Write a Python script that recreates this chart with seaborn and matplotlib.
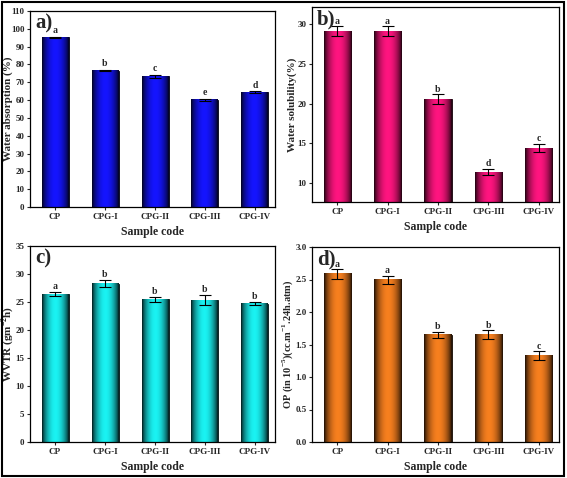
import numpy as np
import pandas as pd
import matplotlib
matplotlib.use("Agg")
import matplotlib.pyplot as plt
import seaborn as sns
from matplotlib.patches import Rectangle

samples = ["CP", "CPG-I", "CPG-II", "CPG-III", "CPG-IV"]

wa_vals = [95.2, 76.6, 73.4, 60.2, 64.5]
wa_err = [0.4, 0.5, 0.8, 0.5, 0.5]
wa_let = ["a", "b", "c", "e", "d"]

ws_vals = [29.15, 29.15, 20.55, 11.3, 14.35]
ws_err = [0.6, 0.6, 0.6, 0.4, 0.5]
ws_let = ["a", "a", "b", "d", "c"]

wvtr_vals = [26.4, 28.25, 25.45, 25.35, 24.7]
wvtr_err = [0.4, 0.6, 0.4, 0.9, 0.3]
wvtr_let = ["a", "b", "b", "b", "b"]

op_vals = [2.585, 2.495, 1.65, 1.65, 1.325]
op_err = [0.07, 0.06, 0.05, 0.07, 0.07]
op_let = ["a", "a", "b", "b", "c"]

sns.set_style("white")
plt.rcParams["font.family"] = ["Liberation Serif", "DejaVu Serif"]
plt.rcParams["font.weight"] = "bold"
plt.rcParams["mathtext.fontset"] = "custom"
plt.rcParams["mathtext.rm"] = "Liberation Serif:bold"
plt.rcParams["mathtext.bf"] = "Liberation Serif:bold"

fig = plt.figure(figsize=(5.67, 4.78), dpi=100)

W, H = 567.0, 478.0
def rect(l, r, t, b):
    return [l / W, 1 - b / H, (r - l) / W, (b - t) / H]

panels = [
    dict(pos=rect(30, 275, 11, 207), vals=wa_vals, err=wa_err, let=wa_let,
         color=(0.08, 0.08, 1.0), ylim=(0, 110), yticks=np.arange(0, 111, 10),
         ylabel="Water absorption (%)", tag="a)", fmt="{:.0f}", loff=0.8, lx=-0.088, lfs=8),
    dict(pos=rect(312, 559, 7, 202), vals=ws_vals, err=ws_err, let=ws_let,
         color=(1.0, 0.08, 0.5), ylim=(7.55, 32.2), yticks=[10, 15, 20, 25, 30],
         ylabel="Water solubility(%)", tag="b)", fmt="{:.0f}", loff=0.1, lx=-0.08, lfs=8),
    dict(pos=rect(30, 275, 246, 442), vals=wvtr_vals, err=wvtr_err, let=wvtr_let,
         color=(0.1, 0.95, 0.95), ylim=(0, 35), yticks=np.arange(0, 36, 5),
         ylabel=r"WVTR (gm$^{-2}$h)", tag="c)", fmt="{:.0f}", loff=0.2, lx=-0.092, lfs=8),
    dict(pos=rect(312, 559, 247, 442), vals=op_vals, err=op_err, let=op_let,
         color=(0.97, 0.5, 0.12), ylim=(0, 3.0), yticks=np.arange(0, 3.01, 0.5),
         ylabel=r"OP (in 10$^{-5}$)(cc.m$^{-1}$.24h.atm)", tag="d)", fmt="{:.1f}", loff=0.01,
         lx=-0.097, lfs=7.5),
]

t = np.linspace(0, 1, 200)
prof = np.clip(np.sin(np.pi * t), 0, 1) ** 0.7
prof = 0.06 + 0.94 * prof

for p in panels:
    ax = fig.add_axes(p["pos"])
    df = pd.DataFrame({"Sample": samples, "Value": p["vals"]})
    sns.barplot(data=df, x="Sample", y="Value", color=p["color"], width=0.54,
                errorbar=None, ax=ax, edgecolor="black", linewidth=0.6, saturation=1)
    ylo, yhi = p["ylim"]
    c = np.array(p["color"])
    grad = (prof[:, None] * c[None, :])[None, :, :]
    for patch in list(ax.patches):
        x0, y0 = patch.get_x(), patch.get_y()
        w, h = patch.get_width(), patch.get_height()
        yb = max(y0, ylo)
        yt = min(y0 + h, yhi)
        ax.imshow(grad, extent=[x0, x0 + w, yb, yt], aspect="auto",
                  origin="lower", zorder=2.1, interpolation="bilinear")
    xs = np.arange(len(samples))
    ax.errorbar(xs, p["vals"], yerr=p["err"], fmt="none", ecolor="black",
                elinewidth=0.8, capsize=4, capthick=0.8, zorder=4)
    for xi, v, e, l in zip(xs, p["vals"], p["err"], p["let"]):
        ax.text(xi, v + e + p["loff"], l, ha="center", va="bottom",
                fontsize=7, fontweight="bold", zorder=5)
    ax.set_xlim(-0.5, 4.4)
    ax.set_ylim(ylo, yhi)
    ax.set_yticks(p["yticks"])
    ax.set_yticklabels([p["fmt"].format(v) for v in p["yticks"]], fontsize=6.5, fontweight="bold")
    ax.set_xticks(xs)
    ax.set_xticklabels(samples, fontsize=6.5, fontweight="bold")
    ax.set_xlabel("Sample code", fontsize=8.5, fontweight="bold", labelpad=4)
    ax.set_ylabel(p["ylabel"], fontsize=p["lfs"], fontweight="bold", va="center")
    ax.yaxis.set_label_coords(p["lx"], 0.5)
    ax.tick_params(axis="both", direction="out", length=2.5, width=0.8, pad=1.5,
                   bottom=True, left=True)
    for s in ax.spines.values():
        s.set_color("black")
        s.set_linewidth(0.9)
        s.set_visible(True)
    ax.text(0.02, 0.985, p["tag"], transform=ax.transAxes, ha="left", va="top",
            fontsize=15, fontweight="bold", zorder=6)

fig.add_artist(Rectangle((0.003, 0.004), 0.992, 0.992, transform=fig.transFigure,
                         fill=False, edgecolor="black", linewidth=1.5))

fig.savefig("out.png", dpi=100)
